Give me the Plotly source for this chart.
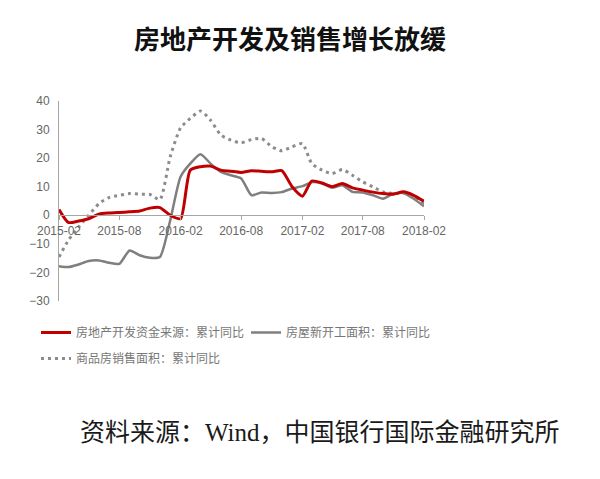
import plotly.graph_objects as go
import pandas as pd

months = pd.date_range("2015-02-01", "2018-02-01", freq="MS").strftime("%Y-%m-%d").tolist()

funds = [2.0, -2.5, -2.0, -1.2, 0.4, 0.8, 1.0, 1.2, 1.5, 2.5, 2.7, 0.0, -1.2,
         15.8, 17.0, 17.2, 15.8, 15.4, 15.0, 15.6, 15.4, 15.2, 15.6, 10.0, 6.7,
         12.0, 11.3, 10.0, 11.1, 9.6, 8.8, 8.1, 7.6, 7.4, 8.2, 7.0, 4.9]

new_starts = [-17.8, -18.1, -17.2, -16.0, -15.8, -16.6, -17.0, -12.3, -14.0, -14.9, -14.6, -1.8, 13.5,
              18.1, 21.4, 18.1, 15.2, 14.0, 12.9, 7.0, 8.0, 7.8, 8.1, 9.4, 10.2,
              11.6, 11.1, 9.7, 10.5, 8.2, 8.0, 7.0, 5.8, 7.6, 7.8, 5.8, 3.2]

sales_area = [-14.6, -8.8, -4.1, 0.0, 4.1, 6.2, 7.0, 7.6, 7.4, 7.3, 5.5, 20.5, 30.6,
              33.9, 36.5, 33.3, 28.1, 26.3, 25.4, 26.5, 26.9, 24.0, 22.6, 24.0, 25.1,
              18.1, 15.8, 14.6, 16.0, 14.0, 11.7, 9.9, 8.2, 7.6, 7.8, 6.4, 3.9]

names = ["房地产开发资金来源：累计同比", "房屋新开工面积：累计同比", "商品房销售面积：累计同比"]
title_text = "房地产开发及销售增长放缓"
source_text = "资料来源：Wind，中国银行国际金融研究所"
yticks = [-30, -20, -10, 0, 10, 20, 30, 40]

fig = go.Figure()
fig.add_trace(go.Scatter(x=months, y=new_starts, name=names[1], mode="lines",
                         line=dict(color="#7f7f7f", width=2.5, shape="spline", smoothing=0.6),
                         legend="legend2"))
fig.add_trace(go.Scatter(x=months, y=sales_area, name=names[2], mode="lines",
                         line=dict(color="#8c8c8c", width=3, dash="3px,4px", shape="spline", smoothing=0.6),
                         legend="legend3"))
fig.add_trace(go.Scatter(x=months, y=funds, name=names[0], mode="lines",
                         line=dict(color="#c00000", width=3, shape="spline", smoothing=0.6),
                         legend="legend"))

leg_font = dict(family="Noto Sans CJK SC", size=12, color="#777777")
def leg(xpx, ytop):
    return dict(orientation="h", xref="container", yref="container", x=xpx / 600, y=1 - ytop / 479,
                xanchor="left", yanchor="top", font=leg_font, itemwidth=30,
                bgcolor="rgba(0,0,0,0)")

fig.update_layout(
    width=600, height=479,
    margin=dict(l=59, r=176, t=101, b=178, autoexpand=False),
    paper_bgcolor="white", plot_bgcolor="white",
    font=dict(family="Liberation Sans, Noto Sans CJK SC", color="#666666", size=12),
    title=dict(text=title_text, x=290 / 600, xref="container", y=1 - 40 / 479, yref="container",
               xanchor="center", yanchor="middle",
               font=dict(family="Noto Sans CJK SC", size=26, color="#111111", weight="bold")),
    showlegend=True,
    legend=leg(36, 318),
    legend2=leg(246, 318),
    legend3=leg(36, 344),
    xaxis=dict(type="date", range=["2015-02-01", "2018-02-01"], tick0="2015-02-01", dtick="M6",
               tickformat="%Y-%m", showgrid=False, zeroline=False,
               showline=True, linecolor="#a6a6a6", linewidth=1,
               ticks="outside", ticklen=4, tickcolor="#a6a6a6",
               anchor="free", position=30 / 70,
               tickfont=dict(size=12, color="#666666")),
    yaxis=dict(range=[-30, 40], tickvals=yticks, showgrid=False, zeroline=False,
               showline=True, linecolor="#a6a6a6", linewidth=1, ticks="",
               ticklabelstandoff=6,
               tickfont=dict(size=12, color="#666666")),
    annotations=[dict(text=source_text, xref="paper", yref="paper",
                      x=(78 - 59) / 365, y=(301 - 432) / 200, xanchor="left", yanchor="middle",
                      showarrow=False,
                      font=dict(family="Liberation Serif, Noto Sans CJK SC", size=25, color="#1a1a1a"))],
)

fig.write_html("out.html")
